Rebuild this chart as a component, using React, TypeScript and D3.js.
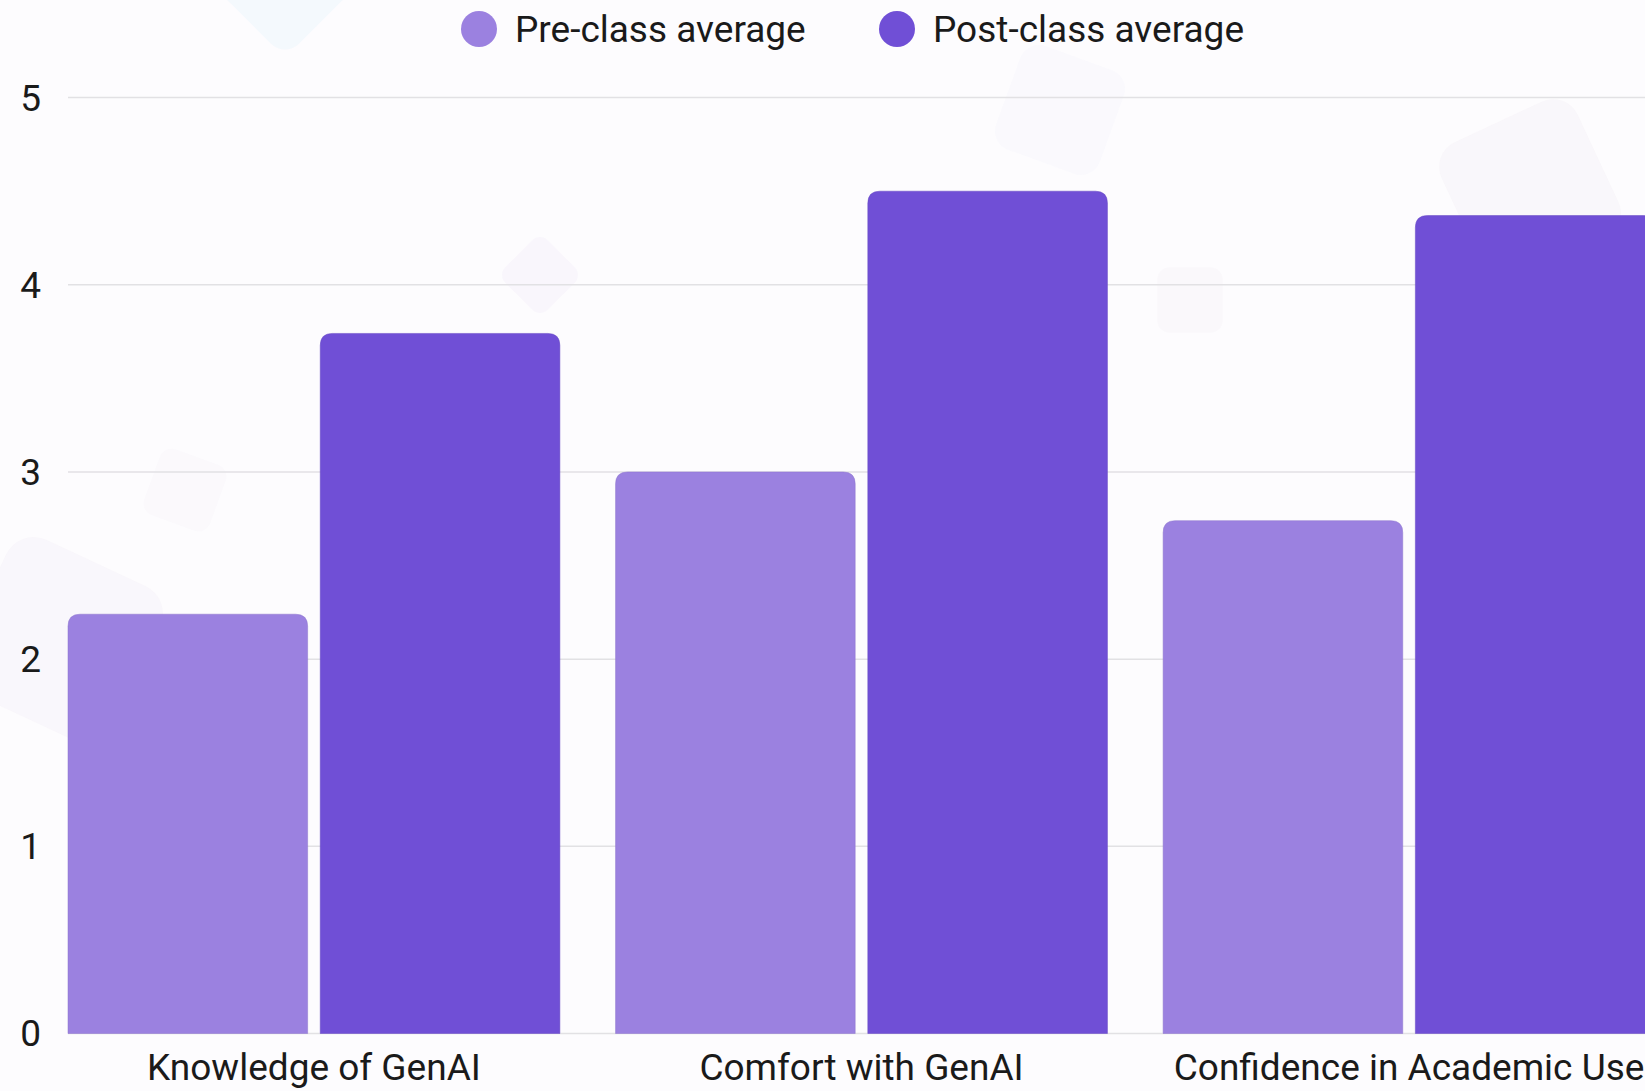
import { useEffect, useRef } from 'react';
import * as d3 from 'd3';

const categories = ['Knowledge of GenAI', 'Comfort with GenAI', 'Confidence in Academic Use'];
const seriesNames = ['Pre-class average', 'Post-class average'];
const preValues = [2.24, 3.0, 2.74];
const postValues = [3.74, 4.5, 4.37];
const yTicks = [0, 1, 2, 3, 4, 5];

const colors = ['#9b81e0', '#704fd6'];

// bar with rounded top corners only
const topRoundedBar = (x: number, y: number, w: number, h: number, r: number) => {
    const rr = Math.min(r, h, w / 2);
    return `M${x},${y + h}V${y + rr}Q${x},${y} ${x + rr},${y}H${x + w - rr}Q${x + w},${y} ${x + w},${y + rr}V${y + h}Z`;
};

const App = () => {
    const svgRef = useRef<SVGSVGElement>(null);

    useEffect(() => {
        if (!svgRef.current) return;
        document.body.style.margin = '0';

        d3.select(svgRef.current).selectAll('*').remove();

        const width = 1645;
        const height = 1091;
        const plot = { left: 68, right: 1655, top: 97.6, bottom: 1033.5 };

        const svg = d3.select(svgRef.current)
            .attr('width', width)
            .attr('height', height)
            .style('font-family', 'Roboto, sans-serif');

        // background
        svg.append('rect').attr('width', width).attr('height', height).attr('fill', '#fdfcfe');

        // faint decorative shapes behind the chart
        const deco = svg.append('g');
        const shapes = [
            { x: 285, y: -20, s: 110, a: 45, c: '#eef6fb', o: 0.6 },
            { x: 540, y: 275, s: 60, a: 45, c: '#f3f0fa', o: 0.45 },
            { x: 1060, y: 110, s: 110, a: 20, c: '#f3f4fb', o: 0.35 },
            { x: 1530, y: 190, s: 150, a: -25, c: '#f6f2f8', o: 0.5 },
            { x: 1190, y: 300, s: 65, a: 0, c: '#f5f2f7', o: 0.4 },
            { x: 60, y: 640, s: 170, a: 25, c: '#f5f2f9', o: 0.5 },
            { x: 185, y: 490, s: 70, a: 20, c: '#f6f4fa', o: 0.35 },
        ];
        shapes.forEach(s => {
            deco.append('rect')
                .attr('x', -s.s / 2).attr('y', -s.s / 2)
                .attr('width', s.s).attr('height', s.s)
                .attr('rx', s.s * 0.18)
                .attr('fill', s.c)
                .attr('opacity', s.o)
                .attr('transform', `translate(${s.x},${s.y}) rotate(${s.a})`);
        });

        const x0 = d3.scaleBand<string>()
            .domain(categories)
            .range([plot.left, plot.right])
            .paddingInner(0.1017)
            .paddingOuter(0);

        const x1 = d3.scaleBand<string>()
            .domain(seriesNames)
            .range([0, x0.bandwidth()])
            .paddingInner(0.05)
            .paddingOuter(0);

        const y = d3.scaleLinear()
            .domain([0, 5])
            .range([plot.bottom, plot.top]);

        // grid lines
        svg.append('g')
            .selectAll('line')
            .data(yTicks)
            .join('line')
            .attr('x1', plot.left)
            .attr('x2', width)
            .attr('y1', d => y(d))
            .attr('y2', d => y(d))
            .attr('stroke', '#e2e1e4')
            .attr('stroke-width', 1.5);

        // y tick labels
        svg.append('g')
            .selectAll('text')
            .data(yTicks)
            .join('text')
            .attr('x', 41)
            .attr('y', d => y(d))
            .attr('dy', '0.35em')
            .attr('text-anchor', 'end')
            .attr('font-size', 37)
            .attr('fill', '#1a1a1a')
            .text(d => d);

        // bars
        const series = [preValues, postValues];
        const groups = svg.append('g')
            .selectAll('g')
            .data(categories)
            .join('g')
            .attr('transform', d => `translate(${x0(d)},0)`);

        groups.selectAll('path')
            .data((_, i) => seriesNames.map((name, si) => ({ name, value: series[si][i], si })))
            .join('path')
            .attr('d', d => topRoundedBar(x1(d.name)!, y(d.value), x1.bandwidth(), y(0) - y(d.value), 12))
            .attr('fill', d => colors[d.si])
            .attr('stroke', d => d3.color(colors[d.si])!.darker(0.25).formatHex())
            .attr('stroke-opacity', 0.5)
            .attr('stroke-width', 1);

        // x labels
        svg.append('g')
            .selectAll('text')
            .data(categories)
            .join('text')
            .attr('x', d => x0(d)! + x0.bandwidth() / 2)
            .attr('y', 1080)
            .attr('text-anchor', 'middle')
            .attr('font-size', 37)
            .attr('fill', '#1a1a1a')
            .text(d => d);

        // legend
        const legendX = [479, 897];
        const legend = svg.append('g')
            .selectAll('g')
            .data(seriesNames)
            .join('g')
            .attr('transform', (_, i) => `translate(${legendX[i]},29)`);

        legend.append('circle')
            .attr('r', 18)
            .attr('fill', (_, i) => colors[i]);

        legend.append('text')
            .attr('x', 36)
            .attr('dy', '0.35em')
            .attr('font-size', 37)
            .attr('fill', '#1a1a1a')
            .text(d => d);
    }, []);

    return (
        <div>
            <svg ref={svgRef} style={{ display: 'block' }}></svg>
        </div>
    );
};

export default App;
